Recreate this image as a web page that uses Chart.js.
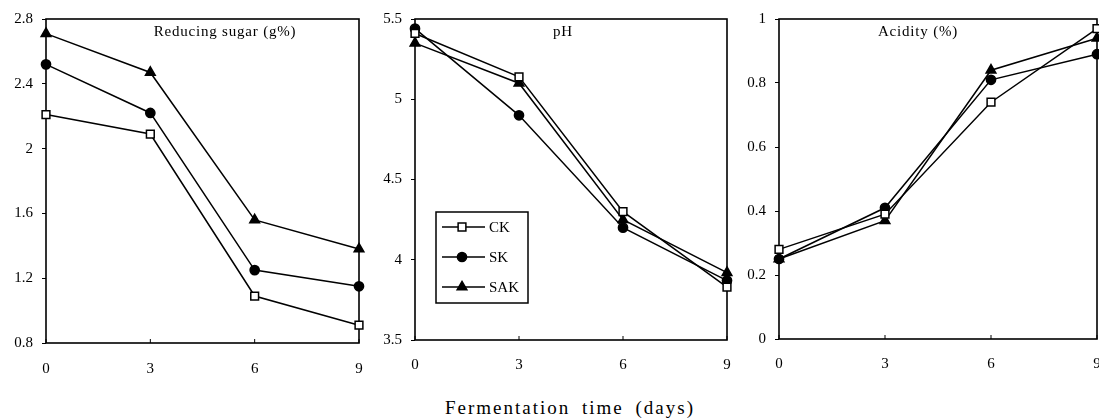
<!DOCTYPE html>
<html>
<head>
<meta charset="utf-8">
<script src="https://cdn.jsdelivr.net/npm/chart.js@4/dist/chart.umd.min.js"></script>
<style>
  body { margin: 0; background: #fff; width: 1099px; height: 418px; overflow: hidden; position: relative; }
  canvas { position: absolute; top: 0; }
  #xtitle { position: absolute; left: 0; width: 1140px; top: 397px; text-align: center;
            font: 19px "Liberation Serif", serif; letter-spacing: 2px; word-spacing: 5px; color: #000; }
</style>
</head>
<body>
<canvas id="sugarChart" width="370" height="380" style="left:0px"></canvas>
<canvas id="phChart" width="370" height="380" style="left:365px"></canvas>
<canvas id="acidChart" width="380" height="380" style="left:730px"></canvas>
<div id="xtitle">Fermentation time (days)</div>
<script>
const days = ['0', '3', '6', '9'];
const seriesNames = ['CK', 'SK', 'SAK'];
const panelTitles = ['Reducing sugar (g%)', 'pH', 'Acidity (%)'];
const xAxisTitle = 'Fermentation time (days)';

const sugarCK = [2.21, 2.09, 1.09, 0.91];
const sugarSK = [2.52, 2.22, 1.25, 1.15];
const sugarSAK = [2.71, 2.47, 1.56, 1.38];

const phCK = [5.41, 5.14, 4.30, 3.83];
const phSK = [5.44, 4.90, 4.20, 3.87];
const phSAK = [5.35, 5.10, 4.25, 3.92];

const acidCK = [0.28, 0.39, 0.74, 0.97];
const acidSK = [0.25, 0.41, 0.81, 0.89];
const acidSAK = [0.25, 0.37, 0.84, 0.94];

const sugarTicks = [0.8, 1.2, 1.6, 2, 2.4, 2.8];
const phTicks = [3.5, 4, 4.5, 5, 5.5];
const acidTicks = [0, 0.2, 0.4, 0.6, 0.8, 1];

document.getElementById('xtitle').textContent = xAxisTitle;

const serif = '"Liberation Serif", "Times New Roman", serif';

const seriesStyles = [
    { pointStyle: 'rect', pointRadius: 5.5, pointBackgroundColor: '#fff' },
    { pointStyle: 'circle', pointRadius: 4.6, pointBackgroundColor: '#000' },
    { pointStyle: 'triangle', pointRadius: 5.6, pointBackgroundColor: '#000' }
];

// box around the plot area, with small inward ticks on the x axis
const framePlugin = {
    id: 'frame',
    beforeDatasetsDraw(chart) {
        const a = chart.chartArea;
        const ctx = chart.ctx;
        const xs = chart.scales.x;
        ctx.save();
        ctx.strokeStyle = '#000';
        ctx.lineWidth = 1.6;
        ctx.strokeRect(a.left, a.top, a.right - a.left, a.bottom - a.top);
        ctx.lineWidth = 1;
        days.forEach((d, i) => {
            const px = xs.getPixelForTick(i);
            ctx.beginPath();
            ctx.moveTo(px, a.bottom);
            ctx.lineTo(px, a.bottom - 4);
            ctx.stroke();
        });
        ctx.restore();
    }
};

// title written inside the plot area
const panelTitlePlugin = {
    id: 'panelTitle',
    afterDatasetsDraw(chart, args, opts) {
        const a = chart.chartArea;
        const ctx = chart.ctx;
        ctx.save();
        ctx.fillStyle = '#000';
        ctx.font = '15px ' + serif;
        ctx.letterSpacing = '0.8px';
        ctx.textAlign = 'center';
        ctx.textBaseline = 'middle';
        ctx.fillText(opts.text, a.left + opts.dx, a.top + 13);
        ctx.restore();
    }
};

// legend box drawn inside the pH panel
const boxLegendPlugin = {
    id: 'boxLegend',
    afterDraw(chart, args, opts) {
        if (!opts.show) return;
        const ctx = chart.ctx;
        ctx.save();
        ctx.strokeStyle = '#000';
        ctx.lineWidth = 1.5;
        ctx.strokeRect(opts.x, opts.y, 92, 91);
        chart.data.datasets.forEach((ds, i) => {
            const cy = opts.y + 15 + i * 30;
            ctx.strokeStyle = '#000';
            ctx.lineWidth = 1.5;
            ctx.beginPath();
            ctx.moveTo(opts.x + 6, cy);
            ctx.lineTo(opts.x + 49, cy);
            ctx.stroke();
            ctx.fillStyle = ds.pointBackgroundColor;
            Chart.helpers.drawPoint(ctx, {
                pointStyle: ds.pointStyle, radius: ds.pointRadius, rotation: 0, borderWidth: 1.5
            }, opts.x + 26, cy);
            ctx.fillStyle = '#000';
            ctx.font = '15px ' + serif;
            ctx.textAlign = 'left';
            ctx.textBaseline = 'middle';
            ctx.fillText(ds.label, opts.x + 53, cy + 1);
        });
        ctx.restore();
    }
};

function makeChart(id, series, yTicks, title, cfg) {
    const datasets = series.map((values, i) => Object.assign({
        label: seriesNames[i],
        data: values,
        borderColor: '#000',
        borderWidth: 1.5,
        pointBorderColor: '#000',
        pointBorderWidth: 1.5,
        clip: false,
        tension: 0
    }, seriesStyles[i]));

    return new Chart(document.getElementById(id), {
        type: 'line',
        data: { labels: days, datasets: datasets },
        options: {
            responsive: false,
            animation: false,
            layout: { padding: { left: 0, right: cfg.padRight, top: 19, bottom: 0 } },
            plugins: {
                legend: { display: false },
                tooltip: { enabled: false },
                panelTitle: { text: title, dx: cfg.titleDx },
                boxLegend: cfg.legend || { show: false }
            },
            scales: {
                x: {
                    offset: false,
                    grid: { drawOnChartArea: false, drawTicks: true, tickLength: cfg.tickGap, color: 'rgba(0,0,0,0)' },
                    border: { display: false },
                    ticks: { color: '#000', font: { family: serif, size: 15 }, padding: 0, maxRotation: 0 },
                    afterFit: function (scale) { scale.height = cfg.xHeight; }
                },
                y: {
                    min: yTicks[0],
                    max: yTicks[yTicks.length - 1],
                    grid: { drawOnChartArea: false, tickLength: 4, color: '#000', lineWidth: 1 },
                    border: { display: false },
                    ticks: {
                        color: '#000',
                        font: { family: serif, size: 15 },
                        padding: 9,
                        callback: function (value) { return String(value); }
                    },
                    afterBuildTicks: function (scale) {
                        scale.ticks = yTicks.map(v => ({ value: v }));
                    },
                    afterFit: function (scale) { scale.width = cfg.yWidth; }
                }
            }
        },
        plugins: [framePlugin, panelTitlePlugin, boxLegendPlugin]
    });
}

makeChart('sugarChart', [sugarCK, sugarSK, sugarSAK], sugarTicks, panelTitles[0],
    { yWidth: 46, padRight: 11, xHeight: 37, titleDx: 179, tickGap: 17 });
makeChart('phChart', [phCK, phSK, phSAK], phTicks, panelTitles[1],
    { yWidth: 50, padRight: 8, xHeight: 40, titleDx: 148, tickGap: 16, legend: { show: true, x: 71, y: 212 } });
makeChart('acidChart', [acidCK, acidSK, acidSAK], acidTicks, panelTitles[2],
    { yWidth: 49, padRight: 13, xHeight: 41, titleDx: 139, tickGap: 16 });
</script>
</body>
</html>
